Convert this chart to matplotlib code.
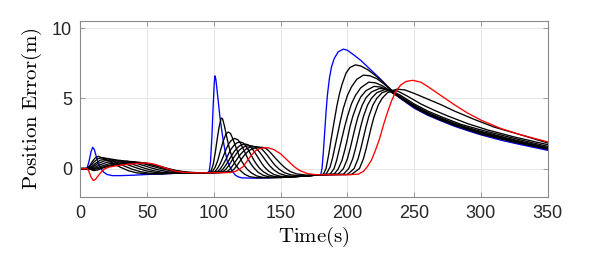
import matplotlib
matplotlib.use("Agg")
import matplotlib.pyplot as plt

# blue curve (first follower)
blue_t = [0, 5, 6.5, 8, 9.3, 10.5, 12, 13.5, 15.5, 17.5, 20, 24, 30, 40, 50, 60, 70, 80, 95,
          96.5, 97.5, 98.5, 99.5, 100.3, 100.8, 101.5, 102.5, 103.5, 104.5, 105.5, 107, 108.5, 110, 112,
          114, 116, 118, 121, 130, 140, 150, 160, 170, 180,
          181, 182, 183, 184, 185, 186.5, 188, 190, 193, 197, 200, 205, 210, 215, 220, 225, 230, 235,
          240, 250, 260, 270, 280, 290, 300, 315, 330, 350]
blue_y = [0, 0.02, 0.5, 1.2, 1.52, 1.35, 0.85, 0.35, 0.0, -0.25, -0.42, -0.5, -0.5, -0.47, -0.42, -0.38, -0.34, -0.31, -0.3,
          -0.2, 0.5, 2.2, 4.5, 6.1, 6.6, 6.35, 5.5, 4.6, 3.7, 3.0, 2.0, 1.2, 0.55, 0.12,
          -0.22, -0.45, -0.58, -0.66, -0.68, -0.66, -0.62, -0.56, -0.5, -0.44,
          0.0, 1.2, 2.6, 4.0, 5.2, 6.4, 7.2, 7.8, 8.3, 8.5, 8.42, 8.07, 7.7, 7.25, 6.8, 6.35, 5.85, 5.4,
          4.97, 4.3, 3.8, 3.4, 3.02, 2.7, 2.4, 2.02, 1.7, 1.3]

# red curve (last follower)
red_t = [0, 5, 6.5, 8, 9.8, 11.5, 13.5, 16, 18.5, 22, 27, 32, 38, 44, 48, 52, 56, 60, 64, 68, 72, 78, 85, 95,
         112, 116, 119, 122, 125, 128, 131, 134, 138, 141, 145, 150, 155, 160, 164, 170, 175, 180,
         200, 208, 212, 215, 218, 221, 224, 227, 230, 233, 236, 240, 244, 249, 255, 260, 270, 280, 290,
         300, 315, 330, 350]
red_y = [0, 0, -0.2, -0.6, -0.85, -0.75, -0.5, -0.2, 0.0, 0.12, 0.2, 0.27, 0.33, 0.38, 0.4, 0.37, 0.3, 0.17, 0.03,
         -0.1, -0.2, -0.27, -0.3, -0.3,
         -0.28, -0.2, -0.05, 0.15, 0.55, 0.95, 1.25, 1.42, 1.48, 1.47, 1.35, 1.05, 0.6, 0.15, -0.12, -0.35, -0.42, -0.44,
         -0.43, -0.4, -0.2, 0.15, 0.6, 1.3, 2.1, 3.1, 4.0, 4.8, 5.45, 5.95, 6.2, 6.28, 6.15, 5.85, 5.2, 4.55, 3.95,
         3.45, 2.85, 2.4, 1.9]

# black curves (intermediate followers)
black1_t = [0, 5, 7, 9, 11, 13.5, 18, 24, 30, 36, 42, 50, 60, 75, 95,
            96, 98, 99.5, 101, 102.5, 104, 105.5, 106.5, 108, 110, 112, 114, 116, 118, 120, 123, 127, 133, 150, 165, 180,
            182, 184, 186, 188, 190, 192, 194, 196, 199, 202, 206, 210, 215, 220, 225, 230, 235, 240, 250, 260,
            270, 280, 300, 325, 350]
black1_y = [0, 0, 0.2, 0.5, 0.75, 0.87, 0.7, 0.4, 0.1, -0.15, -0.3, -0.38, -0.38, -0.32, -0.3,
            -0.28, -0.15, 0.3, 1.1, 2.1, 3.0, 3.6, 3.55, 3.0, 2.1, 1.3, 0.7, 0.3, 0.05, -0.15, -0.4, -0.58, -0.66,
            -0.64, -0.55, -0.44,
            -0.4, 0.0, 1.0, 2.2, 3.3, 4.4, 5.3, 6.0, 6.8, 7.2, 7.38, 7.3, 7.05, 6.7, 6.3, 5.85, 5.4, 5.0, 4.35, 3.85,
            3.45, 3.07, 2.45, 1.87, 1.38]

black2_t = [0, 5, 7, 10, 13, 17, 21, 27, 33, 39, 45, 52, 60, 75, 95,
            97, 99, 101, 103, 105, 107, 109, 110.8, 112.5, 114.5, 117, 119, 121, 123, 125, 128, 132, 137, 150, 165, 180,
            184, 187, 189, 191, 193, 195, 197, 200, 203, 207, 212, 217, 222, 227, 232, 237, 245, 255, 265, 280,
            300, 325, 350]
black2_y = [0, 0, 0.12, 0.45, 0.7, 0.78, 0.7, 0.45, 0.18, -0.05, -0.22, -0.33, -0.36, -0.31, -0.3,
            -0.28, -0.2, 0.1, 0.6, 1.3, 1.95, 2.45, 2.6, 2.5, 2.05, 1.4, 0.9, 0.5, 0.2, -0.05, -0.3, -0.52, -0.63,
            -0.63, -0.55, -0.44,
            -0.4, 0.1, 0.8, 1.7, 2.6, 3.5, 4.3, 5.2, 5.8, 6.35, 6.65, 6.6, 6.4, 6.05, 5.65, 5.25, 4.7, 4.1, 3.65, 3.1,
            2.5, 1.9, 1.4]

black3_t = [0, 6, 8, 11, 15, 21, 25, 31, 37, 43, 49, 56, 64, 78, 95,
            99, 101, 103, 105, 107, 109, 111, 113, 115.5, 118, 120, 122, 124, 126, 128, 130, 133, 137, 142, 150, 165, 180,
            187, 190, 192, 194, 196, 198, 200, 203, 206, 210, 216, 221, 226, 231, 236, 245, 255, 265, 280, 300,
            325, 350]
black3_y = [0, 0, 0.1, 0.35, 0.6, 0.7, 0.65, 0.45, 0.22, 0.02, -0.15, -0.28, -0.34, -0.31, -0.3,
            -0.28, -0.2, 0.05, 0.4, 0.85, 1.35, 1.75, 2.0, 2.15, 2.05, 1.8, 1.4, 1.0, 0.6, 0.3, 0.05, -0.25, -0.48,
            -0.6, -0.62, -0.55, -0.44,
            -0.4, 0.0, 0.6, 1.4, 2.2, 3.0, 3.7, 4.6, 5.2, 5.75, 6.15, 6.1, 5.9, 5.6, 5.25, 4.72, 4.15, 3.7, 3.15, 2.55,
            1.95, 1.42]

black4_t = [0, 6, 9, 13, 18, 25, 30, 36, 42, 48, 54, 61, 70, 95,
            100, 103, 105, 107, 109, 111, 113, 115, 117, 119.5, 122, 124, 126, 128, 130, 132, 134, 137, 141, 146, 155,
            165, 180,
            190, 193, 196, 198, 200, 202, 204, 207, 210, 214, 220, 225, 230, 235, 245, 255, 265, 280, 300, 325, 350]
black4_y = [0, 0, 0.1, 0.35, 0.55, 0.63, 0.58, 0.42, 0.22, 0.03, -0.13, -0.26, -0.32, -0.3,
            -0.28, -0.2, 0.0, 0.3, 0.65, 1.05, 1.4, 1.65, 1.82, 1.9, 1.82, 1.6, 1.3, 0.95, 0.6, 0.3, 0.05, -0.22,
            -0.45, -0.58, -0.6, -0.55, -0.44,
            -0.4, -0.05, 0.6, 1.3, 2.1, 3.0, 3.7, 4.5, 5.1, 5.55, 5.85, 5.8, 5.6, 5.3, 4.75, 4.2, 3.75, 3.2, 2.6,
            2.0, 1.45]

black5_t = [0, 6, 10, 14, 20, 26, 30, 35, 41, 47, 53, 59, 66, 75, 95,
            102, 105, 107, 109, 111, 113, 115, 117, 119, 121, 123.5, 126, 128, 130, 132, 134, 136, 138, 141, 145, 150,
            157, 165, 180,
            193, 197, 200, 202, 204, 206, 208, 211, 214, 218, 224, 229, 234, 240, 250, 260, 270, 285, 300, 325, 350]
black5_y = [0, 0, 0.05, 0.25, 0.45, 0.55, 0.57, 0.53, 0.4, 0.23, 0.05, -0.1, -0.23, -0.3, -0.3,
            -0.28, -0.2, -0.02, 0.25, 0.55, 0.88, 1.18, 1.42, 1.6, 1.7, 1.75, 1.68, 1.5, 1.25, 0.95, 0.65, 0.35, 0.1,
            -0.18, -0.42, -0.55, -0.58, -0.55, -0.44,
            -0.4, 0.0, 0.7, 1.4, 2.2, 3.0, 3.7, 4.5, 5.05, 5.45, 5.7, 5.65, 5.45, 5.1, 4.5, 4.0, 3.6, 3.05, 2.65,
            2.05, 1.5]

black6_t = [0, 6, 10, 15, 21, 28, 35, 40, 46, 52, 58, 64, 71, 80, 95,
            104, 107, 109, 111, 113, 115, 117, 119, 121, 124, 127.8, 130, 132, 134, 136, 138, 140, 142, 145, 149, 154,
            160, 170, 180,
            197, 201, 204, 206, 208, 210, 212, 215, 218, 222, 228, 234, 240, 250, 260, 270, 285, 300, 325, 350]
black6_y = [0, 0, -0.02, 0.15, 0.33, 0.46, 0.52, 0.49, 0.38, 0.22, 0.06, -0.08, -0.22, -0.29, -0.3,
            -0.28, -0.2, -0.05, 0.2, 0.5, 0.8, 1.08, 1.3, 1.47, 1.6, 1.63, 1.58, 1.42, 1.2, 0.95, 0.68, 0.42, 0.18,
            -0.1, -0.35, -0.5, -0.56, -0.53, -0.44,
            -0.4, 0.0, 0.7, 1.4, 2.2, 3.0, 3.7, 4.5, 5.0, 5.4, 5.62, 5.5, 5.2, 4.6, 4.1, 3.7, 3.15, 2.75, 2.15, 1.58]

black7_t = [0, 6, 10, 14, 20, 27, 34, 40, 45, 51, 57, 63, 69, 76, 85, 95,
            106, 110, 112, 114, 116, 118, 120, 122, 124, 127, 131.8, 134, 136, 138, 140, 142, 144, 146, 149, 153, 158,
            165, 180,
            200, 205, 208, 210, 212, 214, 216, 219, 222, 226, 232, 238, 245, 255, 265, 275, 290, 305, 325, 350]
black7_y = [0, 0, -0.06, 0.02, 0.2, 0.35, 0.43, 0.47, 0.44, 0.33, 0.18, 0.03, -0.11, -0.23, -0.3, -0.3,
            -0.28, -0.2, -0.05, 0.2, 0.48, 0.76, 1.02, 1.22, 1.38, 1.52, 1.57, 1.52, 1.38, 1.18, 0.95, 0.7, 0.45, 0.22,
            -0.05, -0.3, -0.45, -0.52, -0.44,
            -0.42, 0.0, 0.7, 1.4, 2.2, 3.0, 3.7, 4.5, 5.0, 5.4, 5.6, 5.5, 5.15, 4.6, 4.15, 3.75, 3.2, 2.75, 2.25, 1.7]

black8_t = [0, 6, 10, 13, 17, 23, 30, 37, 44, 49, 54, 60, 66, 72, 80, 90,
            108, 113, 115, 117, 119, 121, 123, 125, 127, 130, 135.7, 138, 140, 142, 144, 146, 148, 150, 153, 157, 162,
            170, 180,
            203, 209, 212, 214, 216, 218, 220, 223, 226, 230, 237, 243, 250, 260, 270, 280, 295, 310, 330, 350]
black8_y = [0, 0, -0.14, -0.1, 0.05, 0.2, 0.32, 0.4, 0.43, 0.4, 0.3, 0.16, 0.0, -0.14, -0.25, -0.3,
            -0.28, -0.2, -0.05, 0.18, 0.45, 0.72, 0.97, 1.17, 1.32, 1.45, 1.52, 1.48, 1.36, 1.18, 0.97, 0.75, 0.55,
            0.35, 0.08, -0.2, -0.38, -0.47, -0.44,
            -0.42, 0.0, 0.7, 1.4, 2.2, 3.0, 3.7, 4.5, 5.0, 5.4, 5.65, 5.6, 5.35, 4.95, 4.55, 4.1, 3.5, 2.95, 2.4, 1.82]

black_t = [black1_t, black2_t, black3_t, black4_t, black5_t, black6_t, black7_t, black8_t]
black_y = [black1_y, black2_y, black3_y, black4_y, black5_y, black6_y, black7_y, black8_y]

xticks = [0, 50, 100, 150, 200, 250, 300, 350]
yticks = [0, 5, 10]

plt.rcParams["mathtext.fontset"] = "cm"

fig = plt.figure(figsize=(5.98, 2.66), dpi=100)
ax = fig.add_axes([0.1343, 0.2605, 0.7816, 0.6605])

lw = 0.95
ax.plot(blue_t, blue_y, color="#0000ff", lw=lw)
for t, y in zip(black_t, black_y):
    ax.plot(t, y, color="black", lw=lw)
ax.plot(red_t, red_y, color="#ff0000", lw=lw)

ax.set_xlim(0, 350)
ax.set_ylim(-2, 10.5)
ax.set_xticks(xticks)
ax.set_yticks(yticks)
ax.grid(True, color="#e6e6e6", lw=0.7)
ax.set_axisbelow(True)

for s in ax.spines.values():
    s.set_color("#8a8a8a")
    s.set_linewidth(0.8)
ax.tick_params(direction="in", length=3.5, width=0.6, color="#8a8a8a",
               top=True, right=True, labelsize=13, labelcolor="#262626", pad=6)
for lab in ax.get_xticklabels() + ax.get_yticklabels():
    lab.set_family("Liberation Sans")

ax.set_xlabel(r"$\mathrm{Time(s)}$", fontsize=15, labelpad=2)
ax.set_ylabel(r"$\mathrm{Position\ Error(m)}$", fontsize=15, labelpad=6)

fig.savefig("out.png", dpi=100)
